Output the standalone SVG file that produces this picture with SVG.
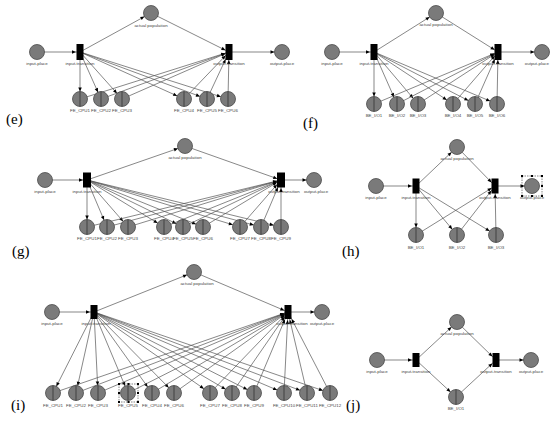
<svg xmlns="http://www.w3.org/2000/svg" width="550" height="430" viewBox="0 0 550 430">
<style>
.bg{fill:#fff}
.cn line{stroke:#555;stroke-width:0.7;fill:none}
.pl circle{fill:#7a7a7a;stroke:#4a4a4a;stroke-width:0.8}
.pl line{stroke:#333;stroke-width:0.8}
.tr rect{fill:#000}
text.lb{font-family:"Liberation Sans",Arial,sans-serif;font-size:4.4px;fill:#444;text-anchor:middle}
text.pn{font-family:"Liberation Serif","Times New Roman",serif;font-size:15px;fill:#000}
.sel rect.b{fill:none;stroke:#333;stroke-width:0.6;stroke-dasharray:1.5 1}
.sel rect.h{fill:#000}
</style>
<defs>
<marker id="mc" markerUnits="userSpaceOnUse" markerWidth="4" markerHeight="4" refX="11.5" refY="1.75" orient="auto" overflow="visible"><path d="M0,0 L4,1.75 L0,3.5z" fill="#000"/></marker>
<marker id="m4" markerUnits="userSpaceOnUse" markerWidth="4" markerHeight="4" refX="8" refY="1.75" orient="auto" overflow="visible"><path d="M0,0 L4,1.75 L0,3.5z" fill="#000"/></marker>
<marker id="m5" markerUnits="userSpaceOnUse" markerWidth="4" markerHeight="4" refX="9" refY="1.75" orient="auto" overflow="visible"><path d="M0,0 L4,1.75 L0,3.5z" fill="#000"/></marker>
<marker id="m6" markerUnits="userSpaceOnUse" markerWidth="4" markerHeight="4" refX="10" refY="1.75" orient="auto" overflow="visible"><path d="M0,0 L4,1.75 L0,3.5z" fill="#000"/></marker>
<marker id="m8" markerUnits="userSpaceOnUse" markerWidth="4" markerHeight="4" refX="12" refY="1.75" orient="auto" overflow="visible"><path d="M0,0 L4,1.75 L0,3.5z" fill="#000"/></marker>
</defs>
<rect class="bg" x="0" y="0" width="550" height="430"/>

<!-- ===== connectors ===== -->
<g id="connectors" class="cn">
<!-- (e) -->
<line x1="37" y1="52" x2="80" y2="52" marker-end="url(#m4)"/>
<line x1="80" y1="52" x2="151" y2="13" marker-end="url(#mc)"/>
<line x1="151" y1="13" x2="229" y2="52" marker-end="url(#m4)"/>
<line x1="229" y1="52" x2="282" y2="52" marker-end="url(#mc)"/>
<line x1="80" y1="52" x2="80" y2="99" marker-end="url(#mc)"/>
<line x1="80" y1="52" x2="101" y2="99" marker-end="url(#mc)"/>
<line x1="80" y1="52" x2="122" y2="99" marker-end="url(#mc)"/>
<line x1="80" y1="52" x2="184" y2="99" marker-end="url(#mc)"/>
<line x1="80" y1="52" x2="207" y2="99" marker-end="url(#mc)"/>
<line x1="80" y1="52" x2="228" y2="99" marker-end="url(#mc)"/>
<line x1="80" y1="99" x2="229" y2="52" marker-end="url(#m4)"/>
<line x1="101" y1="99" x2="229" y2="52" marker-end="url(#m4)"/>
<line x1="122" y1="99" x2="229" y2="52" marker-end="url(#m4)"/>
<line x1="184" y1="99" x2="229" y2="52" marker-end="url(#m5)"/>
<line x1="207" y1="99" x2="229" y2="52" marker-end="url(#m8)"/>
<line x1="228" y1="99" x2="229" y2="52" marker-end="url(#m8)"/>
<!-- (f) -->
<line x1="332" y1="52" x2="374" y2="52" marker-end="url(#m4)"/>
<line x1="374" y1="52" x2="436" y2="13" marker-end="url(#mc)"/>
<line x1="436" y1="13" x2="498" y2="52" marker-end="url(#m4)"/>
<line x1="498" y1="52" x2="542" y2="52" marker-end="url(#mc)"/>
<line x1="374" y1="52" x2="374" y2="104" marker-end="url(#mc)"/>
<line x1="374" y1="52" x2="397" y2="104" marker-end="url(#mc)"/>
<line x1="374" y1="52" x2="418" y2="104" marker-end="url(#mc)"/>
<line x1="374" y1="52" x2="453" y2="104" marker-end="url(#mc)"/>
<line x1="374" y1="52" x2="475" y2="104" marker-end="url(#mc)"/>
<line x1="374" y1="52" x2="497" y2="104" marker-end="url(#mc)"/>
<line x1="374" y1="104" x2="498" y2="52" marker-end="url(#m4)"/>
<line x1="397" y1="104" x2="498" y2="52" marker-end="url(#m4)"/>
<line x1="418" y1="104" x2="498" y2="52" marker-end="url(#m4)"/>
<line x1="453" y1="104" x2="498" y2="52" marker-end="url(#m5)"/>
<line x1="475" y1="104" x2="498" y2="52" marker-end="url(#m8)"/>
<line x1="497" y1="104" x2="498" y2="52" marker-end="url(#m8)"/>
<!-- (g) -->
<line x1="45" y1="180" x2="87" y2="180" marker-end="url(#m4)"/>
<line x1="87" y1="180" x2="185" y2="146" marker-end="url(#mc)"/>
<line x1="185" y1="146" x2="281" y2="180" marker-end="url(#m4)"/>
<line x1="281" y1="180" x2="314" y2="180" marker-end="url(#mc)"/>
<line x1="87" y1="180" x2="87" y2="227" marker-end="url(#mc)"/>
<line x1="87" y1="180" x2="107" y2="227" marker-end="url(#mc)"/>
<line x1="87" y1="180" x2="128" y2="227" marker-end="url(#mc)"/>
<line x1="87" y1="180" x2="164" y2="227" marker-end="url(#mc)"/>
<line x1="87" y1="180" x2="183" y2="227" marker-end="url(#mc)"/>
<line x1="87" y1="180" x2="203" y2="227" marker-end="url(#mc)"/>
<line x1="87" y1="180" x2="240" y2="227" marker-end="url(#mc)"/>
<line x1="87" y1="180" x2="261" y2="227" marker-end="url(#mc)"/>
<line x1="87" y1="180" x2="281" y2="227" marker-end="url(#mc)"/>
<line x1="87" y1="227" x2="281" y2="180" marker-end="url(#m4)"/>
<line x1="107" y1="227" x2="281" y2="180" marker-end="url(#m4)"/>
<line x1="128" y1="227" x2="281" y2="180" marker-end="url(#m4)"/>
<line x1="164" y1="227" x2="281" y2="180" marker-end="url(#m4)"/>
<line x1="183" y1="227" x2="281" y2="180" marker-end="url(#m4)"/>
<line x1="203" y1="227" x2="281" y2="180" marker-end="url(#m5)"/>
<line x1="240" y1="227" x2="281" y2="180" marker-end="url(#m6)"/>
<line x1="261" y1="227" x2="281" y2="180" marker-end="url(#m8)"/>
<line x1="281" y1="227" x2="281" y2="180" marker-end="url(#m8)"/>
<!-- (h) -->
<line x1="376" y1="186" x2="416" y2="186" marker-end="url(#m4)"/>
<line x1="416" y1="186" x2="457" y2="147" marker-end="url(#mc)"/>
<line x1="457" y1="147" x2="495" y2="186" marker-end="url(#m5)"/>
<line x1="495" y1="186" x2="532" y2="186" marker-end="url(#mc)"/>
<line x1="416" y1="186" x2="416" y2="235" marker-end="url(#mc)"/>
<line x1="416" y1="186" x2="457" y2="235" marker-end="url(#mc)"/>
<line x1="416" y1="186" x2="496" y2="235" marker-end="url(#mc)"/>
<line x1="416" y1="235" x2="495" y2="186" marker-end="url(#m4)"/>
<line x1="457" y1="235" x2="495" y2="186" marker-end="url(#m6)"/>
<line x1="496" y1="235" x2="495" y2="186" marker-end="url(#m8)"/>
<!-- (i) -->
<line x1="52" y1="312" x2="94" y2="312" marker-end="url(#m4)"/>
<line x1="94" y1="312" x2="194" y2="272" marker-end="url(#mc)"/>
<line x1="194" y1="272" x2="288" y2="312" marker-end="url(#m4)"/>
<line x1="288" y1="312" x2="322" y2="312" marker-end="url(#mc)"/>
<line x1="94" y1="312" x2="53" y2="393" marker-end="url(#mc)"/>
<line x1="94" y1="312" x2="76" y2="393" marker-end="url(#mc)"/>
<line x1="94" y1="312" x2="98" y2="393" marker-end="url(#mc)"/>
<line x1="94" y1="312" x2="128" y2="393" marker-end="url(#mc)"/>
<line x1="94" y1="312" x2="152" y2="393" marker-end="url(#mc)"/>
<line x1="94" y1="312" x2="174" y2="393" marker-end="url(#mc)"/>
<line x1="94" y1="312" x2="210" y2="393" marker-end="url(#mc)"/>
<line x1="94" y1="312" x2="232" y2="393" marker-end="url(#mc)"/>
<line x1="94" y1="312" x2="254" y2="393" marker-end="url(#mc)"/>
<line x1="94" y1="312" x2="284" y2="393" marker-end="url(#mc)"/>
<line x1="94" y1="312" x2="307" y2="393" marker-end="url(#mc)"/>
<line x1="94" y1="312" x2="330" y2="393" marker-end="url(#mc)"/>
<line x1="53" y1="393" x2="288" y2="312" marker-end="url(#m4)"/>
<line x1="76" y1="393" x2="288" y2="312" marker-end="url(#m4)"/>
<line x1="98" y1="393" x2="288" y2="312" marker-end="url(#m4)"/>
<line x1="128" y1="393" x2="288" y2="312" marker-end="url(#m4)"/>
<line x1="152" y1="393" x2="288" y2="312" marker-end="url(#m4)"/>
<line x1="174" y1="393" x2="288" y2="312" marker-end="url(#m4)"/>
<line x1="210" y1="393" x2="288" y2="312" marker-end="url(#m5)"/>
<line x1="232" y1="393" x2="288" y2="312" marker-end="url(#m6)"/>
<line x1="254" y1="393" x2="288" y2="312" marker-end="url(#m8)"/>
<line x1="284" y1="393" x2="288" y2="312" marker-end="url(#m8)"/>
<line x1="307" y1="393" x2="288" y2="312" marker-end="url(#m8)"/>
<line x1="330" y1="393" x2="288" y2="312" marker-end="url(#m8)"/>
<!-- (j) -->
<line x1="377" y1="360" x2="416" y2="360" marker-end="url(#m4)"/>
<line x1="416" y1="360" x2="457" y2="322" marker-end="url(#mc)"/>
<line x1="457" y1="322" x2="496" y2="360" marker-end="url(#m5)"/>
<line x1="496" y1="360" x2="531" y2="360" marker-end="url(#mc)"/>
<line x1="416" y1="360" x2="456" y2="397" marker-end="url(#mc)"/>
<line x1="456" y1="397" x2="496" y2="360" marker-end="url(#m5)"/>
</g>

<!-- ===== panel (e) ===== -->
<g id="panel-e">
<g id="e-input-place" class="pl"><circle cx="37" cy="52" r="7.5"/><text class="lb" x="37" y="65">input-place</text></g>
<g id="e-input-transition" class="tr"><rect x="76.5" y="44" width="7" height="16"/><text class="lb" x="80" y="65">input-transition</text></g>
<g id="e-actual-population" class="pl"><circle cx="151" cy="13" r="7.5"/><text class="lb" x="151" y="27">actual population</text></g>
<g id="e-output-transition" class="tr"><rect x="225.5" y="44" width="7" height="16"/><text class="lb" x="229" y="65">output-transition</text></g>
<g id="e-output-place" class="pl"><circle cx="282" cy="52" r="7.5"/><text class="lb" x="282" y="65">output-place</text></g>
<g id="e-FE_CPU1" class="pl"><circle cx="80" cy="99" r="7.5"/><line x1="80" y1="91.5" x2="80" y2="106.5"/><text class="lb" x="80" y="112">FE_CPU1</text></g>
<g id="e-FE_CPU2" class="pl"><circle cx="101" cy="99" r="7.5"/><line x1="101" y1="91.5" x2="101" y2="106.5"/><text class="lb" x="101" y="112">FE_CPU2</text></g>
<g id="e-FE_CPU3" class="pl"><circle cx="122" cy="99" r="7.5"/><line x1="122" y1="91.5" x2="122" y2="106.5"/><text class="lb" x="122" y="112">FE_CPU3</text></g>
<g id="e-FE_CPU4" class="pl"><circle cx="184" cy="99" r="7.5"/><line x1="184" y1="91.5" x2="184" y2="106.5"/><text class="lb" x="184" y="112">FE_CPU4</text></g>
<g id="e-FE_CPU5" class="pl"><circle cx="207" cy="99" r="7.5"/><line x1="207" y1="91.5" x2="207" y2="106.5"/><text class="lb" x="207" y="112">FE_CPU5</text></g>
<g id="e-FE_CPU6" class="pl"><circle cx="228" cy="99" r="7.5"/><line x1="228" y1="91.5" x2="228" y2="106.5"/><text class="lb" x="228" y="112">FE_CPU6</text></g>
<text class="pn" x="6" y="124">(e)</text>
</g>

<!-- ===== panel (f) ===== -->
<g id="panel-f">
<g id="f-input-place" class="pl"><circle cx="332" cy="52" r="7.5"/><text class="lb" x="332" y="65">input-place</text></g>
<g id="f-input-transition" class="tr"><rect x="370.5" y="44" width="7" height="16"/><text class="lb" x="374" y="65">input-transition</text></g>
<g id="f-actual-population" class="pl"><circle cx="436" cy="13" r="7.5"/><text class="lb" x="436" y="26">actual population</text></g>
<g id="f-output-transition" class="tr"><rect x="494.5" y="44" width="7" height="16"/><text class="lb" x="498" y="65">output-transition</text></g>
<g id="f-output-place" class="pl"><circle cx="542" cy="52" r="7.5"/><text class="lb" x="549" y="65" style="text-anchor:end">output-place</text></g>
<g id="f-BE_IO1" class="pl"><circle cx="374" cy="104" r="7.5"/><line x1="374" y1="96.5" x2="374" y2="111.5"/><text class="lb" x="374" y="117">BE_I/O1</text></g>
<g id="f-BE_IO2" class="pl"><circle cx="397" cy="104" r="7.5"/><line x1="397" y1="96.5" x2="397" y2="111.5"/><text class="lb" x="397" y="117">BE_I/O2</text></g>
<g id="f-BE_IO3" class="pl"><circle cx="418" cy="104" r="7.5"/><line x1="418" y1="96.5" x2="418" y2="111.5"/><text class="lb" x="418" y="117">BE_I/O3</text></g>
<g id="f-BE_IO4" class="pl"><circle cx="453" cy="104" r="7.5"/><line x1="453" y1="96.5" x2="453" y2="111.5"/><text class="lb" x="453" y="117">BE_I/O4</text></g>
<g id="f-BE_IO5" class="pl"><circle cx="475" cy="104" r="7.5"/><line x1="475" y1="96.5" x2="475" y2="111.5"/><text class="lb" x="475" y="117">BE_I/O5</text></g>
<g id="f-BE_IO6" class="pl"><circle cx="497" cy="104" r="7.5"/><line x1="497" y1="96.5" x2="497" y2="111.5"/><text class="lb" x="497" y="117">BE_I/O6</text></g>
<text class="pn" x="303" y="128">(f)</text>
</g>

<!-- ===== panel (g) ===== -->
<g id="panel-g">
<g id="g-input-place" class="pl"><circle cx="45" cy="180" r="7.5"/><text class="lb" x="45" y="193">input-place</text></g>
<g id="g-input-transition" class="tr"><rect x="83" y="172.5" width="8" height="15"/><text class="lb" x="87" y="193">input-transition</text></g>
<g id="g-actual-population" class="pl"><circle cx="185" cy="146" r="7.5"/><text class="lb" x="185" y="159">actual population</text></g>
<g id="g-output-transition" class="tr"><rect x="277" y="172.5" width="8" height="15"/><text class="lb" x="284" y="193">output-transition</text></g>
<g id="g-output-place" class="pl"><circle cx="314" cy="180" r="7.5"/><text class="lb" x="316" y="193">output-place</text></g>
<g id="g-FE_CPU1" class="pl"><circle cx="87" cy="227" r="7.5"/><line x1="87" y1="219.5" x2="87" y2="234.5"/><text class="lb" x="87" y="240">FE_CPU1</text></g>
<g id="g-FE_CPU2" class="pl"><circle cx="107" cy="227" r="7.5"/><line x1="107" y1="219.5" x2="107" y2="234.5"/><text class="lb" x="107" y="240">FE_CPU2</text></g>
<g id="g-FE_CPU3" class="pl"><circle cx="128" cy="227" r="7.5"/><line x1="128" y1="219.5" x2="128" y2="234.5"/><text class="lb" x="128" y="240">FE_CPU3</text></g>
<g id="g-FE_CPU4" class="pl"><circle cx="164" cy="227" r="7.5"/><line x1="164" y1="219.5" x2="164" y2="234.5"/><text class="lb" x="164" y="240">FE_CPU4</text></g>
<g id="g-FE_CPU5" class="pl"><circle cx="183" cy="227" r="7.5"/><line x1="183" y1="219.5" x2="183" y2="234.5"/><text class="lb" x="183" y="240">FE_CPU5</text></g>
<g id="g-FE_CPU6" class="pl"><circle cx="203" cy="227" r="7.5"/><line x1="203" y1="219.5" x2="203" y2="234.5"/><text class="lb" x="203" y="240">FE_CPU6</text></g>
<g id="g-FE_CPU7" class="pl"><circle cx="240" cy="227" r="7.5"/><line x1="240" y1="219.5" x2="240" y2="234.5"/><text class="lb" x="240" y="240">FE_CPU7</text></g>
<g id="g-FE_CPU8" class="pl"><circle cx="261" cy="227" r="7.5"/><line x1="261" y1="219.5" x2="261" y2="234.5"/><text class="lb" x="261" y="240">FE_CPU8</text></g>
<g id="g-FE_CPU9" class="pl"><circle cx="281" cy="227" r="7.5"/><line x1="281" y1="219.5" x2="281" y2="234.5"/><text class="lb" x="281" y="240">FE_CPU9</text></g>
<text class="pn" x="12" y="256">(g)</text>
</g>

<!-- ===== panel (h) ===== -->
<g id="panel-h">
<g id="h-input-place" class="pl"><circle cx="376" cy="186" r="7.5"/><text class="lb" x="376" y="199">input-place</text></g>
<g id="h-input-transition" class="tr"><rect x="412.5" y="178.5" width="7" height="15"/><text class="lb" x="416" y="199">input-transition</text></g>
<g id="h-actual-population" class="pl"><circle cx="457" cy="147" r="7.5"/><text class="lb" x="457" y="160">actual population</text></g>
<g id="h-output-transition" class="tr"><rect x="491.5" y="178.5" width="7" height="15"/><text class="lb" x="495" y="199">output-transition</text></g>
<g id="h-output-place" class="pl"><circle cx="532" cy="186" r="7.5"/><text class="lb" x="532" y="199">output-place</text>
<g class="sel"><rect class="b" x="522" y="176" width="20" height="20"/>
<rect class="h" x="521" y="175" width="2" height="2"/><rect class="h" x="531" y="175" width="2" height="2"/><rect class="h" x="541" y="175" width="2" height="2"/>
<rect class="h" x="521" y="185" width="2" height="2"/><rect class="h" x="541" y="185" width="2" height="2"/>
<rect class="h" x="521" y="195" width="2" height="2"/><rect class="h" x="531" y="195" width="2" height="2"/><rect class="h" x="541" y="195" width="2" height="2"/></g></g>
<g id="h-BE_IO1" class="pl"><circle cx="416" cy="235" r="7.5"/><line x1="416" y1="227.5" x2="416" y2="242.5"/><text class="lb" x="416" y="249">BE_I/O1</text></g>
<g id="h-BE_IO2" class="pl"><circle cx="457" cy="235" r="7.5"/><line x1="457" y1="227.5" x2="457" y2="242.5"/><text class="lb" x="457" y="249">BE_I/O2</text></g>
<g id="h-BE_IO3" class="pl"><circle cx="496" cy="235" r="7.5"/><line x1="496" y1="227.5" x2="496" y2="242.5"/><text class="lb" x="496" y="249">BE_I/O3</text></g>
<text class="pn" x="342" y="256">(h)</text>
</g>

<!-- ===== panel (i) ===== -->
<g id="panel-i">
<g id="i-input-place" class="pl"><circle cx="52" cy="312" r="7.5"/><text class="lb" x="52" y="325">input-place</text></g>
<g id="i-input-transition" class="tr"><rect x="90.5" y="305" width="7" height="14"/><text class="lb" x="96" y="325">input-transition</text></g>
<g id="i-actual-population" class="pl"><circle cx="194" cy="272" r="7.5"/><text class="lb" x="197" y="285">actual population</text></g>
<g id="i-output-transition" class="tr"><rect x="284.5" y="305" width="7" height="14"/><text class="lb" x="292" y="325">output-transition</text></g>
<g id="i-output-place" class="pl"><circle cx="322" cy="312" r="7.5"/><text class="lb" x="322" y="325">output-place</text></g>
<g id="i-FE_CPU1" class="pl"><circle cx="53" cy="393" r="7.5"/><line x1="53" y1="385.5" x2="53" y2="400.5"/><text class="lb" x="53" y="407">FE_CPU1</text></g>
<g id="i-FE_CPU2" class="pl"><circle cx="76" cy="393" r="7.5"/><line x1="76" y1="385.5" x2="76" y2="400.5"/><text class="lb" x="76" y="407">FE_CPU2</text></g>
<g id="i-FE_CPU3" class="pl"><circle cx="98" cy="393" r="7.5"/><line x1="98" y1="385.5" x2="98" y2="400.5"/><text class="lb" x="98" y="407">FE_CPU3</text></g>
<g id="i-FE_CPU5" class="pl"><circle cx="128" cy="393" r="7.5"/><line x1="128" y1="385.5" x2="128" y2="400.5"/><text class="lb" x="128" y="407">FE_CPU5</text>
<g class="sel"><rect class="b" x="119" y="384" width="19" height="18"/>
<rect class="h" x="118" y="383" width="2" height="2"/><rect class="h" x="127.5" y="383" width="2" height="2"/><rect class="h" x="137" y="383" width="2" height="2"/>
<rect class="h" x="118" y="392" width="2" height="2"/><rect class="h" x="137" y="392" width="2" height="2"/>
<rect class="h" x="118" y="401" width="2" height="2"/><rect class="h" x="127.5" y="401" width="2" height="2"/><rect class="h" x="137" y="401" width="2" height="2"/></g></g>
<g id="i-FE_CPU4" class="pl"><circle cx="152" cy="393" r="7.5"/><line x1="152" y1="385.5" x2="152" y2="400.5"/><text class="lb" x="152" y="407">FE_CPU4</text></g>
<g id="i-FE_CPU6" class="pl"><circle cx="174" cy="393" r="7.5"/><line x1="174" y1="385.5" x2="174" y2="400.5"/><text class="lb" x="174" y="407">FE_CPU6</text></g>
<g id="i-FE_CPU7" class="pl"><circle cx="210" cy="393" r="7.5"/><line x1="210" y1="385.5" x2="210" y2="400.5"/><text class="lb" x="210" y="407">FE_CPU7</text></g>
<g id="i-FE_CPU8" class="pl"><circle cx="232" cy="393" r="7.5"/><line x1="232" y1="385.5" x2="232" y2="400.5"/><text class="lb" x="232" y="407">FE_CPU8</text></g>
<g id="i-FE_CPU9" class="pl"><circle cx="254" cy="393" r="7.5"/><line x1="254" y1="385.5" x2="254" y2="400.5"/><text class="lb" x="254" y="407">FE_CPU9</text></g>
<g id="i-FE_CPU10" class="pl"><circle cx="284" cy="393" r="7.5"/><line x1="284" y1="385.5" x2="284" y2="400.5"/><text class="lb" x="284" y="407">FE_CPU10</text></g>
<g id="i-FE_CPU11" class="pl"><circle cx="307" cy="393" r="7.5"/><line x1="307" y1="385.5" x2="307" y2="400.5"/><text class="lb" x="307" y="407">FE_CPU11</text></g>
<g id="i-FE_CPU12" class="pl"><circle cx="330" cy="393" r="7.5"/><line x1="330" y1="385.5" x2="330" y2="400.5"/><text class="lb" x="330" y="407">FE_CPU12</text></g>
<text class="pn" x="11" y="410">(i)</text>
</g>

<!-- ===== panel (j) ===== -->
<g id="panel-j">
<g id="j-input-place" class="pl"><circle cx="377" cy="360" r="7.5"/><text class="lb" x="377" y="373">input-place</text></g>
<g id="j-input-transition" class="tr"><rect x="412.5" y="353" width="7" height="14"/><text class="lb" x="416" y="373">input-transition</text></g>
<g id="j-actual-population" class="pl"><circle cx="457" cy="322" r="7.5"/><text class="lb" x="457" y="335">actual population</text></g>
<g id="j-output-transition" class="tr"><rect x="492.5" y="353" width="7" height="14"/><text class="lb" x="496" y="373">output-transition</text></g>
<g id="j-output-place" class="pl"><circle cx="531" cy="360" r="7.5"/><text class="lb" x="531" y="373">output-place</text></g>
<g id="j-BE_IO1" class="pl"><circle cx="456" cy="397" r="7.5"/><line x1="456" y1="389.5" x2="456" y2="404.5"/><text class="lb" x="456" y="410">BE_I/O1</text></g>
<text class="pn" x="346" y="410">(j)</text>
</g>
</svg>
